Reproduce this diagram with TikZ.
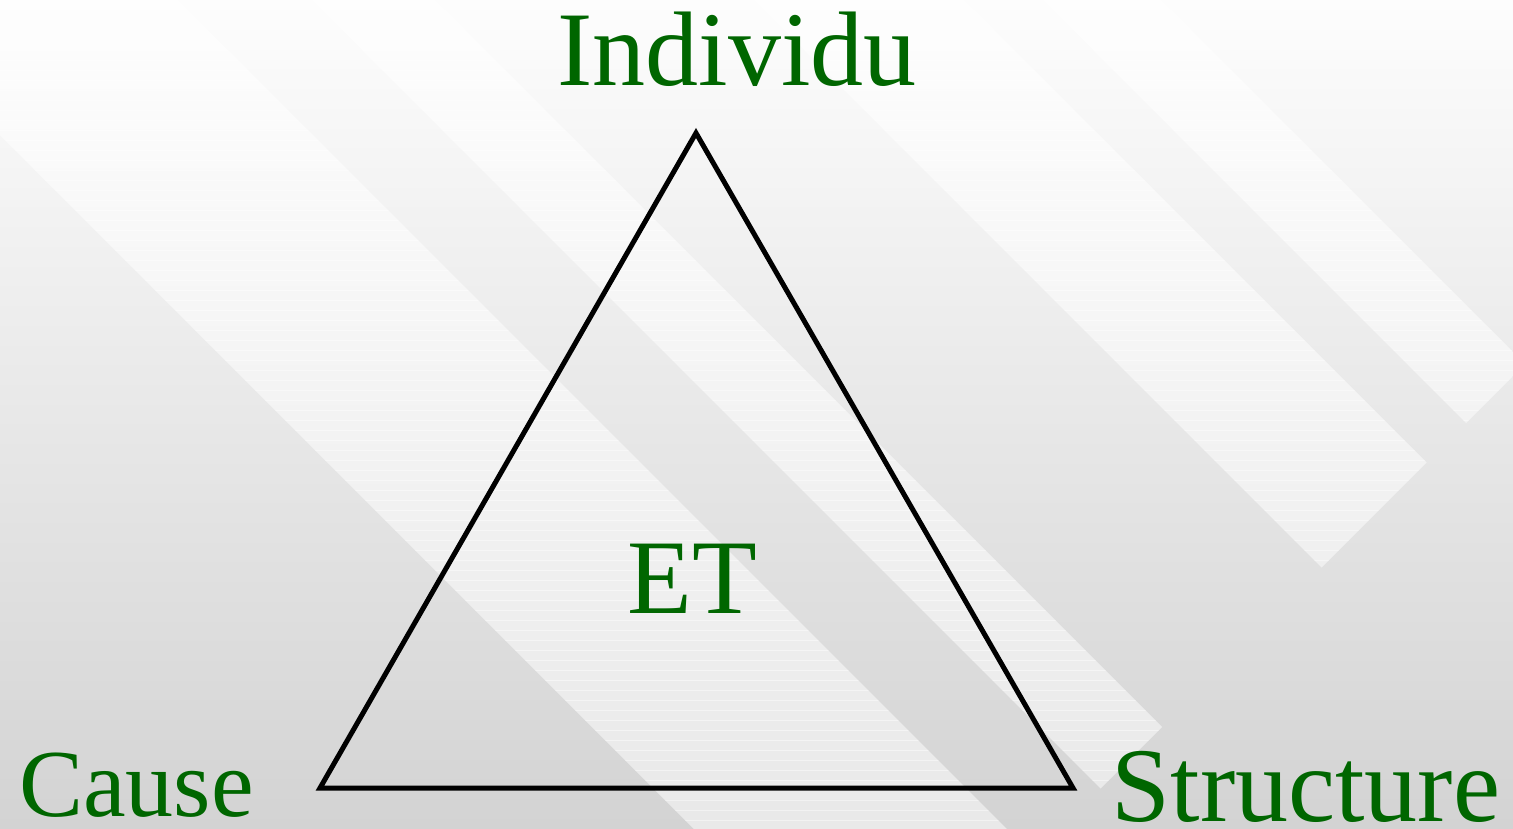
\documentclass[tikz,border=0pt]{standalone}
\usepackage{fontspec}
\setmainfont{Liberation Serif}
\definecolor{bgtop}{RGB}{253,253,253}
\definecolor{bgbot}{RGB}{211,211,211}
\definecolor{labelgreen}{RGB}{0,102,0}
\tikzset{
  lbl/.style={inner sep=0pt, anchor=base, text=labelgreen, font=\fontsize{106}{120}\selectfont},
  lblsmall/.style={lbl, font=\fontsize{96}{110}\selectfont},
  bandfill/.style={fill=white, fill opacity=0.5, draw=none},
  tri/.style={draw=black, line width=5pt, line join=miter}
}
\newcommand{\myband}[3]{% a, b, end (x+y)
  \begin{scope}
    \clip ({(-600+#1)/2},{(-600-#1)/2}) -- ({(#3+#1)/2},{(#3-#1)/2}) -- ({(#3+#2)/2},{(#3-#2)/2}) -- ({(-600+#2)/2},{(-600-#2)/2}) -- cycle;
    \fill[bandfill] (-400,-400) rectangle (1900,1100);
    \foreach \yy in {0,10,...,830} {\draw[white, opacity=0.45, line width=0.8pt] (0,\yy) -- (1513,\yy);}
  \end{scope}
}
\begin{document}
\begin{tikzpicture}[x=1pt,y=-1pt]
\useasboundingbox (0,0) rectangle (1513,828);
\begin{scope}
\clip (0,0) rectangle (1513,828);
\shade[top color=bgtop, bottom color=bgbot] (0,0) rectangle (1513,828);
\myband{-135}{178}{1889}
\myband{312}{435}{1889}
\myband{754}{964}{1889}
\myband{1043}{1161}{1889}
\end{scope}
\coordinate (apex) at (696,133);
\coordinate (bl) at (320,788);
\coordinate (br) at (1073,788);
\draw[tri] (apex) -- (bl) -- (br) -- cycle;
\node[lbl] (ind) at (737,85) {Individu};
\node[lbl] (et) at (692,613) {ET};
\node[lblsmall] (cause) at (136.5,816) {Cause};
\node[lbl] (struct) at (1306,821) {Structure};
\end{tikzpicture}
\end{document}
